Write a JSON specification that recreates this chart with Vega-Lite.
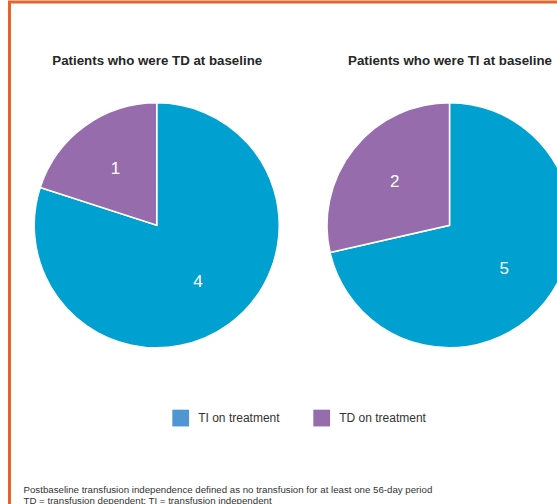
{
  "$schema": "https://vega.github.io/schema/vega-lite/v6.json",
  "width": 547.5,
  "height": 502,
  "autosize": "none",
  "padding": {"left": 9.5, "top": 2, "right": 0, "bottom": 0},
  "background": "white",
  "config": {
    "font": "Liberation Sans",
    "view": {"stroke": "#e9622b", "strokeWidth": 3, "strokeDash": [547.5, 1049.5, 502, 10]}
  },
  "data": {
    "values": [
      {"group": "Patients who were TD at baseline", "outcome": "TI on treatment", "patients": 4},
      {"group": "Patients who were TD at baseline", "outcome": "TD on treatment", "patients": 1},
      {"group": "Patients who were TI at baseline", "outcome": "TI on treatment", "patients": 5},
      {"group": "Patients who were TI at baseline", "outcome": "TD on treatment", "patients": 2}
    ]
  },
  "title": {
    "text": ["Postbaseline transfusion independence defined as no transfusion for at least one 56-day period", "TD = transfusion dependent; TI = transfusion independent"],
    "orient": "bottom",
    "anchor": "start",
    "frame": "group",
    "offset": -19.5,
    "dx": 14,
    "fontSize": 9.7,
    "fontWeight": "normal",
    "lineHeight": 11.3,
    "color": "#333333"
  },
  "resolve": {"scale": {"theta": "independent"}},
  "layer": [
    {
      "transform": [{"filter": "datum.group === 'Patients who were TD at baseline'"}],
      "encoding": {
        "x": {"field": "group", "type": "nominal"},
        "y": {"datum": "pie", "type": "nominal"},
        "theta": {"field": "patients", "type": "quantitative", "stack": true},
        "order": {"field": "outcome", "sort": "descending"},
        "color": {"field": "outcome", "type": "nominal"}
      },
      "layer": [
        {"mark": {"type": "arc", "outerRadius": 122.5, "stroke": "white", "strokeWidth": 1.5}},
        {"mark": {"type": "text", "radius": 70, "fontSize": 17, "align": "center", "baseline": "middle"},
         "encoding": {"text": {"field": "patients", "type": "quantitative"}, "color": {"value": "white"}}}
      ]
    },
    {
      "transform": [{"filter": "datum.group === 'Patients who were TI at baseline'"}],
      "encoding": {
        "x": {"field": "group", "type": "nominal"},
        "y": {"datum": "pie", "type": "nominal"},
        "theta": {"field": "patients", "type": "quantitative", "stack": true},
        "order": {"field": "outcome", "sort": "descending"},
        "color": {"field": "outcome", "type": "nominal"}
      },
      "layer": [
        {"mark": {"type": "arc", "outerRadius": 122.5, "stroke": "white", "strokeWidth": 1.5}},
        {"mark": {"type": "text", "radius": 70, "fontSize": 17, "align": "center", "baseline": "middle"},
         "encoding": {"text": {"field": "patients", "type": "quantitative"}, "color": {"value": "white"}}}
      ]
    }
  ],
  "encoding": {
    "x": {
      "field": "group",
      "type": "nominal",
      "scale": {"type": "point", "domain": ["Patients who were TD at baseline", "Patients who were TI at baseline"], "padding": 0.435, "align": 0.578},
      "axis": {
        "orient": "top", "title": null, "offset": -62.3, "domain": false, "ticks": false, "tickSize": 0,
        "labelPadding": 0, "labelBaseline": "alphabetic", "labelFontSize": 13.3, "labelFontWeight": "bold",
        "labelColor": "#262626", "labelLimit": 0, "labelAngle": 0, "grid": false
      }
    },
    "y": {"datum": "pie", "type": "nominal", "scale": {"type": "point", "align": 0.4448}, "axis": null},
    "color": {
      "field": "outcome",
      "type": "nominal",
      "scale": {"domain": ["TI on treatment", "TD on treatment"], "range": ["#00a1d0", "#976cad"]},
      "legend": {
        "title": null, "orient": "none", "legendX": 162.7, "legendY": 407.3, "direction": "horizontal",
        "symbolType": "square", "symbolSize": 70, "labelFontSize": 12,
        "symbolStrokeColor": {"expr": "datum.value === 'TI on treatment' ? '#4f96d3' : '#976cad'"},
        "symbolStrokeWidth": 8.4,
        "labelOffset": 9, "columnPadding": 20, "padding": 0, "labelColor": "#333333"
      }
    }
  }
}
